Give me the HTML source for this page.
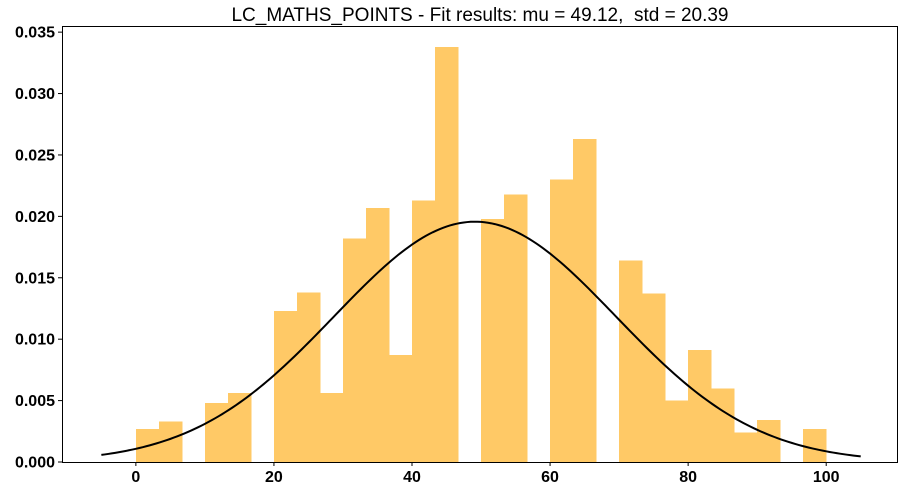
<!DOCTYPE html>
<html><head><meta charset="utf-8"><style>
html,body{margin:0;padding:0;background:#fff;}
svg{display:block;font-family:"Liberation Sans",sans-serif;}
.tick{font-size:16px;font-weight:bold;fill:#000;}
</style></head><body>
<svg id="chart" width="909" height="491"></svg>
<script>
const binStart = 0;
const binWidth = 100/30;
const densities = [0.0027,0.0033,0,0.0048,0.0056,0,0.0123,0.0138,0.0056,0.0182,0.0207,0.0087,0.0213,0.0338,0,0.0198,0.0218,0,0.0230,0.0263,0,0.0164,0.0137,0.0050,0.0091,0.0060,0.0024,0.0034,0,0.0027];
const fitMu = 49.12;
const fitStd = 20.39;
const xTicks = [0,20,40,60,80,100];
const yTicks = [0,0.005,0.010,0.015,0.020,0.025,0.030,0.035];
const titleText = "LC_MATHS_POINTS - Fit results: mu = 49.12,  std = 20.39";

const L=62,R=898,T=26,B=462;
const xMin=-10.7,xMax=110.4,yMax=0.0355;
const xs=v=>L+(v-xMin)/(xMax-xMin)*(R-L);
const ys=v=>B-v/yMax*(B-T);
const NS="http://www.w3.org/2000/svg";
const svg=document.getElementById('chart');
function mk(tag,attrs,parent){const e=document.createElementNS(NS,tag);for(const k in attrs)e.setAttribute(k,attrs[k]);(parent||svg).appendChild(e);return e;}

const bars=mk('g',{'shape-rendering':'crispEdges'});


densities.forEach((d,i)=>{
  if(d<=0)return;
  const x0=xs(binStart+i*binWidth),x1=xs(binStart+(i+1)*binWidth);
  const r=mk('rect',{x:x0,y:ys(d),width:x1-x0+0.5,height:ys(0)-ys(d),fill:'#ffc966'},bars);
  
  
});

let pts=[];
for(let k=0;k<=220;k++){const x=-5+k*110/220;const y=Math.exp(-0.5*((x-fitMu)/fitStd)**2)/(fitStd*Math.sqrt(2*Math.PI));pts.push(xs(x).toFixed(2)+','+ys(y).toFixed(2));}
const curve=mk('polyline',{points:pts.join(' '),fill:'none',stroke:'#000','stroke-width':2});



const frame=mk('rect',{x:L+0.5,y:T+0.5,width:R-L-1,height:B-T,fill:'none',stroke:'#000','stroke-width':1});



xTicks.forEach(v=>{
  const x=xs(v);
  mk('line',{x1:x,x2:x,y1:B,y2:B+4,stroke:'#000'});
  const t=mk('text',{x:x,y:B+20,'text-anchor':'middle',class:'tick'});t.textContent=v;
  
  
});
yTicks.forEach(v=>{
  const y=ys(v);
  mk('line',{x1:L-4,x2:L,y1:y,y2:y,stroke:'#000'});
  const t=mk('text',{x:L-7,y:y+5.5,'text-anchor':'end',class:'tick'});t.textContent=v.toFixed(3);
  
  
});
const title=mk('text',{x:(L+R)/2,y:21,'text-anchor':'middle','font-size':'19px',fill:'#000',style:'white-space:pre'});
title.textContent=titleText;


</script>
</body></html>
